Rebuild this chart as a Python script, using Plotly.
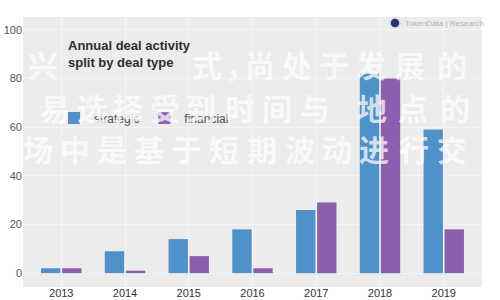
import plotly.graph_objects as go

years = ["2013", "2014", "2015", "2016", "2017", "2018", "2019"]
strategic = [2, 9, 14, 18, 26, 82, 59]
financial = [2, 1, 7, 2, 29, 80, 18]
y_ticks = [0, 20, 40, 60, 80, 100]

title_text = "Annual deal activity<br>split by deal type"
logo_text = "TokenData | Research"

# watermark rows: (characters, pixel centres x, pixel centre y)
wm_rows = [
    (list("兴式，尚处于发展的"), [43, 207, 240, 260, 297, 334, 371, 410, 452], 64),
    (list("易选择受到时间与地点的"), [55, 92, 128, 165, 201, 240, 277, 315, 372, 413, 455], 107),
    (list("场中是基于短期波动进行交"), [38, 75, 112, 149, 187, 224, 262, 300, 337, 374, 414, 452], 148),
]

W, H = 500, 300
L, R, T, B = 23, 18, 17, 13
PW, PH = W - L - R, H - T - B


def px(x):
    return (x - L) / PW


def py(y):
    return (H - B - y) / PH


fig = go.Figure()
fig.add_bar(x=years, y=strategic, name="strategic", marker=dict(color="#4f91c9", line=dict(width=0)))
fig.add_bar(x=years, y=financial, name="financial", marker=dict(color="#8c5fae", line=dict(width=0)))

annotations = []
for chars, xs, yc in wm_rows:
    for ch, xc in zip(chars, xs):
        annotations.append(dict(
            text=ch, x=px(xc), y=py(yc), xref="paper", yref="paper",
            xanchor="center", yanchor="middle", showarrow=False,
            font=dict(family="Noto Sans CJK SC", size=30, color="rgba(255,255,255,0.72)", weight="bold"),
        ))

annotations.append(dict(
    text=title_text, x=px(66), y=py(36), xref="paper", yref="paper",
    xanchor="left", yanchor="top", align="left", showarrow=False,
    font=dict(family="Liberation Sans", size=13, color="#2e2e2e", weight="bold"),
))
annotations.append(dict(
    text=logo_text, x=px(403), y=py(23), xref="paper", yref="paper",
    xanchor="left", yanchor="middle", showarrow=False,
    font=dict(family="Liberation Sans", size=8, color="#b0b0b8"),
))

fig.update_layout(
    width=W, height=H,
    margin=dict(l=L, r=R, t=T, b=B, autoexpand=False),
    paper_bgcolor="white",
    plot_bgcolor="#ececec",
    barmode="group",
    bargap=0.34,
    bargroupgap=0.08,
    font=dict(family="Liberation Sans", color="#444"),
    showlegend=True,
    legend=dict(
        orientation="h", x=px(54), y=py(118), xanchor="left", yanchor="middle",
        bgcolor="rgba(0,0,0,0)", font=dict(size=12, color="#555"),
        itemwidth=30, tracegroupgap=0,
    ),
    annotations=annotations,
    shapes=[dict(
        type="circle", xref="paper", yref="paper",
        x0=px(390), x1=px(400), y0=py(28), y1=py(18),
        fillcolor="#2f3270", line=dict(color="#d8d8e8", width=1.5),
    )],
)

fig.update_xaxes(
    range=[-0.6, 6.6], showgrid=True, gridcolor="#f4f4f4", gridwidth=1, automargin=False,
    tickfont=dict(size=11, color="#333"), ticks="", showline=False, zeroline=False,
    ticklabelstandoff=-2,
)
fig.update_yaxes(
    range=[-5.7, 105.3], tickvals=y_ticks, showgrid=True, gridcolor="#f4f4f4", gridwidth=1,
    automargin=False,
    tickfont=dict(size=11, color="#555"), ticks="", showline=False, zeroline=False,
)

fig.write_html("out.html")
